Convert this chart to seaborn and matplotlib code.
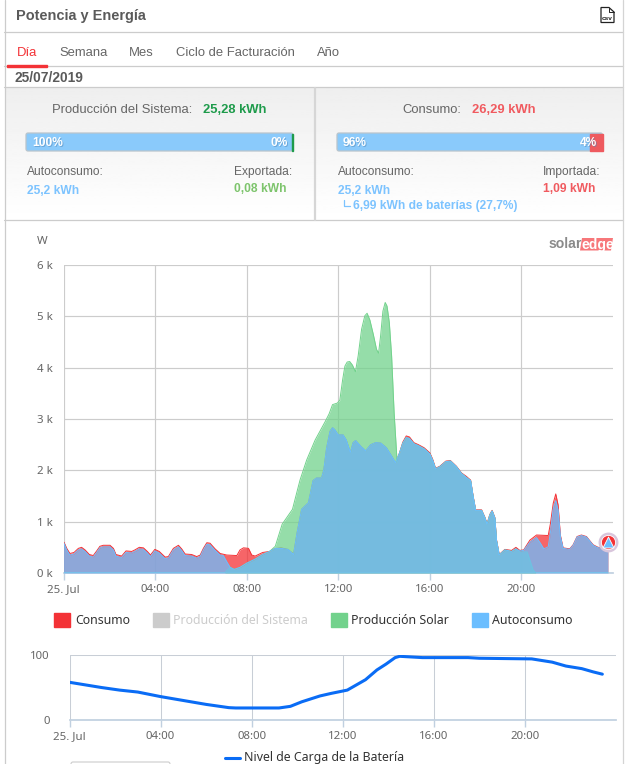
import matplotlib
matplotlib.use("Agg")
import matplotlib.pyplot as plt
from matplotlib.patches import Rectangle, FancyBboxPatch, Polygon
import numpy as np
import seaborn as sns

W, H = 637, 764

# data (hours, kW)
consumo_h = [0, 0.02, 0.14, 0.28, 0.46, 0.65, 0.79, 0.94, 1.13, 1.3, 1.45, 1.59, 1.74, 2.03, 2.18, 2.29, 2.54, 2.73,
             2.98, 3.12, 3.31, 3.49, 3.66, 3.8, 3.99, 4.18, 4.44, 4.58, 4.8, 5.02, 5.16, 5.31, 5.6, 5.82, 5.97, 6.11,
             6.26, 6.4, 6.62, 6.84, 7.13, 7.57, 7.71, 7.86, 8.08, 8.22, 8.37, 8.7, 9.0, 9.2, 9.5, 9.8, 10.05, 10.2,
             10.4, 10.7, 10.9, 11.05, 11.27, 11.37, 11.49, 11.64, 11.75, 11.85, 12.0, 12.21, 12.35, 12.53, 12.65,
             12.76, 13.0, 13.2, 13.42, 13.64, 13.86, 14.1, 14.3, 14.5, 14.67, 14.82, 14.97, 15.11, 15.3, 15.5, 15.75,
             16.0, 16.12, 16.25, 16.44, 16.7, 16.9, 17.16, 17.38, 17.6, 17.78, 17.89, 18.0, 18.26, 18.4, 18.5, 18.62,
             18.72, 18.84, 18.91, 19.03, 19.28, 19.57, 19.76, 19.93, 20.1, 20.37, 20.66, 21.17, 21.27, 21.39, 21.5,
             21.6, 21.7, 21.82, 22.11, 22.26, 22.43, 22.62, 22.84, 23.13, 23.35, 23.78]
consumo_kw = [0.6, 0.6, 0.48, 0.38, 0.4, 0.48, 0.5, 0.45, 0.36, 0.34, 0.43, 0.52, 0.54, 0.54, 0.48, 0.36, 0.33, 0.43,
              0.42, 0.45, 0.5, 0.49, 0.42, 0.35, 0.46, 0.42, 0.31, 0.32, 0.48, 0.54, 0.47, 0.37, 0.36, 0.32, 0.35, 0.48,
              0.59, 0.58, 0.47, 0.38, 0.35, 0.34, 0.45, 0.49, 0.48, 0.35, 0.33, 0.4, 0.42, 0.47, 0.49, 0.46, 0.37, 0.78,
              1.24, 1.37, 1.8, 1.85, 1.85, 2.01, 2.43, 2.76, 2.83, 2.79, 2.69, 2.69, 2.59, 2.35, 2.54, 2.58, 2.46, 2.38,
              2.5, 2.54, 2.53, 2.44, 2.3, 2.15, 2.33, 2.55, 2.67, 2.65, 2.54, 2.5, 2.44, 2.34, 2.22, 2.04, 2.08, 2.18,
              2.19, 2.08, 1.95, 1.88, 1.81, 1.5, 1.23, 1.23, 1.09, 0.96, 1.14, 1.22, 1.08, 0.65, 0.36, 0.46, 0.44, 0.5,
              0.44, 0.45, 0.64, 0.74, 0.73, 0.97, 1.36, 1.54, 1.33, 0.74, 0.49, 0.47, 0.55, 0.71, 0.74, 0.71, 0.55, 0.5,
              0.5]

solar_h = [0, 7.05, 7.13, 7.28, 7.46, 7.71, 8.0, 8.37, 8.7, 9.0, 9.25, 9.55, 10.0, 10.33, 10.62, 10.99, 11.43, 11.6,
           11.75, 11.96, 12.07, 12.19, 12.29, 12.39, 12.5, 12.62, 12.75, 12.87, 13.02, 13.16, 13.26, 13.38, 13.53,
           13.67, 13.76, 13.85, 13.95, 14.05, 14.13, 14.23, 14.33, 14.44, 14.52, 14.57, 14.67, 14.82, 14.97, 15.11,
           15.3, 15.5, 15.75, 16.0, 16.12, 16.25, 16.44, 16.7, 16.9, 17.16, 17.38, 17.6, 17.78, 17.89, 18.0, 18.26,
           18.4, 18.5, 18.62, 18.72, 18.84, 18.91, 19.03, 19.28, 19.57, 19.76, 19.93, 20.25, 20.37, 20.51, 20.63,
           20.7, 23.78]
solar_kw = [0, 0, 0.05, 0.11, 0.07, 0.11, 0.19, 0.27, 0.36, 0.42, 0.52, 0.95, 1.24, 1.81, 2.2, 2.59, 2.95, 3.1, 3.28,
            3.31, 3.37, 3.76, 4.03, 4.11, 4.12, 4.05, 3.92, 4.23, 4.75, 5.01, 5.06, 4.93, 4.65, 4.36, 4.28, 4.62, 5.1,
            5.27, 5.2, 4.88, 4.23, 3.12, 2.54, 2.16, 2.33, 2.53, 2.64, 2.62, 2.52, 2.48, 2.42, 2.32, 2.2, 2.03, 2.07,
            2.17, 2.18, 2.07, 1.94, 1.86, 1.8, 1.49, 1.22, 1.22, 1.08, 0.95, 1.13, 1.21, 1.07, 0.64, 0.35, 0.45, 0.42,
            0.47, 0.41, 0.41, 0.25, 0.06, 0, 0, 0]

autoconsumo_h = [0, 0.02, 0.14, 0.28, 0.46, 0.65, 0.79, 0.94, 1.13, 1.3, 1.45, 1.59, 1.74, 2.03, 2.18, 2.29, 2.54, 2.73,
                 2.98, 3.12, 3.31, 3.49, 3.66, 3.8, 3.99, 4.18, 4.44, 4.58, 4.8, 5.02, 5.16, 5.31, 5.6, 5.82, 5.97,
                 6.11, 6.26, 6.4, 6.62, 6.84, 6.98, 7.13, 7.28, 7.46, 7.71, 8.0, 8.37, 8.7, 9.0, 9.25, 9.5, 9.8, 10.05,
                 10.2, 10.4, 10.7, 10.9, 11.05, 11.27, 11.37, 11.49, 11.64, 11.75, 11.85, 12.0, 12.21, 12.35, 12.53,
                 12.65, 12.76, 13.0, 13.2, 13.42, 13.64, 13.86, 14.1, 14.3, 14.5, 14.67, 14.82, 14.97, 15.11, 15.3,
                 15.5, 15.75, 16.0, 16.12, 16.25, 16.44, 16.7, 16.9, 17.16, 17.38, 17.6, 17.78, 17.89, 18.0, 18.26,
                 18.4, 18.5, 18.62, 18.72, 18.84, 18.91, 19.03, 19.28, 19.57, 19.76, 19.93, 20.1, 20.37, 20.66, 20.83,
                 20.98, 21.17, 21.27, 21.39, 21.5, 21.6, 21.7, 21.82, 22.11, 22.26, 22.43, 22.62, 22.84, 23.13, 23.35,
                 23.78]
autoconsumo_kw = [0.58, 0.58, 0.45, 0.35, 0.37, 0.45, 0.47, 0.42, 0.33, 0.31, 0.4, 0.49, 0.51, 0.51, 0.45, 0.33, 0.3,
                  0.4, 0.39, 0.42, 0.47, 0.46, 0.39, 0.32, 0.43, 0.39, 0.28, 0.29, 0.45, 0.51, 0.44, 0.34, 0.33, 0.29,
                  0.32, 0.45, 0.56, 0.55, 0.44, 0.35, 0.34, 0.22, 0.11, 0.07, 0.11, 0.19, 0.27, 0.36, 0.42, 0.48, 0.48,
                  0.46, 0.36, 0.78, 1.24, 1.37, 1.8, 1.85, 1.85, 2.01, 2.43, 2.76, 2.83, 2.79, 2.69, 2.69, 2.59, 2.35,
                  2.54, 2.58, 2.46, 2.38, 2.5, 2.54, 2.53, 2.44, 2.3, 2.15, 2.33, 2.53, 2.64, 2.62, 2.52, 2.48, 2.42,
                  2.32, 2.2, 2.03, 2.07, 2.17, 2.18, 2.07, 1.94, 1.86, 1.8, 1.49, 1.22, 1.22, 1.08, 0.95, 1.13, 1.21,
                  1.07, 0.64, 0.35, 0.45, 0.42, 0.47, 0.43, 0.44, 0.6, 0.69, 0.58, 0.47, 0.51, 0.8, 1.26, 1.41, 1.23,
                  0.71, 0.48, 0.46, 0.54, 0.7, 0.73, 0.7, 0.54, 0.49, 0.49]

bateria_h = [0, 1.4, 2.2, 3, 4, 5, 6, 7, 7.3, 9.2, 9.7, 10.2, 11, 11.5, 12.2, 13, 13.5, 13.9, 14.3, 14.5, 15.5, 17.5,
             18, 20.3, 21.2, 21.8, 22.5, 23, 23.4]
bateria_pct = [58, 50, 46, 43, 36, 30, 24, 19, 18.5, 18.5, 21, 28, 37, 41, 46, 62, 77, 86, 96, 98, 96, 96, 95, 94, 89,
               83, 79, 74, 70.5]

hour_ticks = [0, 4, 8, 12, 16, 20]
hour_labels = ["25. Jul", "04:00", "08:00", "12:00", "16:00", "20:00"]
power_ticks = [0, 1, 2, 3, 4, 5, 6]
power_labels = ["0 k", "1 k", "2 k", "3 k", "4 k", "5 k", "6 k"]
legend_names = ["Consumo", "Producción del Sistema", "Producción Solar", "Autoconsumo"]
marker_h = [23.78]
marker_kw = [0.61]

RED = "#F33236"
GREY = "#CCCCCC"
GREEN = "#72D28C"
BLUE = "#6BBEFF"
UI_FONT = "Liberation Sans"
CHART_FONT = "Noto Sans"

sns.set_theme(style="white")
plt.rcParams["font.family"] = [UI_FONT, "DejaVu Sans"]


def px(size):
    # font size in pixels to points at dpi 100
    return size * 0.72


def axes_rect(left, top, right, bottom):
    return [left / W, 1 - bottom / H, (right - left) / W, (bottom - top) / H]


fig = plt.figure(figsize=(W / 100, H / 100), dpi=100, facecolor="white")

# page chrome in pixel coordinates
ui = fig.add_axes([0, 0, 1, 1], zorder=0)
ui.imshow(np.linspace(0.935, 1, 64).reshape(-1, 1), extent=(5, 623, 220, 88), aspect="auto",
          cmap="gray", vmin=0, vmax=1, zorder=0)
ui.set_xlim(0, W)
ui.set_ylim(H, 0)
ui.axis("off")

for y in [31.7, 66, 87.3, 220.3]:
    ui.plot([4, 623], [y, y], color="#CCCCCC", lw=0.9, zorder=1)
ui.plot([4.5, 4.5], [0, H], color="#CCCCCC", lw=0.9, zorder=1)
ui.plot([623, 623], [0, H], color="#D4D4D4", lw=0.9, zorder=1)
ui.plot([315, 315], [88, 220], color="#D6D6D6", lw=1.6, zorder=1)


def label(x, y, text, size=12, color="#666666", weight="normal", ha="left", font=UI_FONT):
    return ui.text(x, y, text, fontsize=px(size), color=color, fontweight=weight, ha=ha, va="center",
                   family=font, zorder=3)


def bar_label(x, text, ha="left"):
    # white figure with the soft shadow the page gives it
    sh = label(x + 1, 144, text, 12, "#4E86B8", "bold", ha=ha)
    sh.set_alpha(0.5)
    label(x, 143, text, 12, "white", "bold", ha=ha)


label(15.5, 16, "Potencia y Energía", 14.5, "#5A5A5A", "bold")
label(17, 52.5, "Día", 13, "#F33236")
for x, tab in [(59, "Semana"), (129, "Mes"), (176, "Ciclo de Facturación"), (316.5, "Año")]:
    label(x, 52.5, tab, 13, "#666666")
ui.add_patch(Rectangle((7, 64.5), 40, 2.2, color="#F33236", zorder=3))
label(14.5, 77.5, "25/07/2019", 13.8, "#5A5A5A", "bold")

label(52, 110, "Producción del Sistema:", 13, "#666666")
label(203, 110, "25,28 kWh", 13, "#1E9B4B", "bold")
label(402, 110, "Consumo:", 13, "#666666")
label(472, 110, "26,29 kWh", 13, "#F05A5F", "bold")

for left, right in [(26, 293), (337, 602.5)]:
    ui.add_patch(FancyBboxPatch((left, 133), right - left, 18, boxstyle="round,pad=0,rounding_size=2",
                                fc="#8ACAFB", ec="#B9C4CC", lw=0.9, zorder=2))
ui.add_patch(Rectangle((292, 133.5), 1.2, 17, color="#1E9B4B", zorder=2.5))
ui.add_patch(Rectangle((590, 133.5), 12.5, 17, color="#EE5A5F", zorder=2.5))
bar_label(32, "100%")
bar_label(288, "0%", ha="right")
bar_label(343, "96%")
bar_label(597, "4%", ha="right")

label(27, 172, "Autoconsumo:", 12, "#666666")
label(27, 190.5, "25,2 kWh", 12, "#7CC3FF", "bold")
label(234, 172, "Exportada:", 12, "#666666")
label(234, 189.5, "0,08 kWh", 12, "#7DC46C", "bold")
label(338, 172, "Autoconsumo:", 12, "#666666")
label(338, 190.5, "25,2 kWh", 12, "#7CC3FF", "bold")
label(353, 206.5, "6,99 kWh de baterías (27,7%)", 12, "#7CC3FF", "bold")
ui.plot([343.5, 343.5, 349.5], [200, 205.5, 205.5], color="#7CC3FF", lw=0.9, zorder=3)
label(543, 172, "Importada:", 12, "#666666")
label(543, 189.5, "1,09 kWh", 12, "#F05A5F", "bold")

# csv icon
ui.add_patch(Polygon([(601, 7.5), (609, 7.5), (614, 12), (614, 22.5), (601, 22.5)], closed=True, fc="white",
                     ec="#222222", lw=0.9, zorder=3))
ui.plot([609, 609, 614], [7.5, 12, 12], color="#222222", lw=0.7, zorder=3)
label(607.5, 18, "csv", 6.5, "#222222", "bold", ha="center")

# solaredge logo
label(549, 244, "solar", 14, "#8A8A8A", "bold")
ui.add_patch(Polygon([(582, 238), (613, 238), (611, 250.5), (580, 250.5)], closed=True, fc="#F7777A", ec="none",
                     zorder=2.5))
label(582, 244.5, "edge", 14, "white", "bold")
label(37, 242, "W", 11.5, "#666666", font=CHART_FONT)

# main power chart
ax = fig.add_axes(axes_rect(63.5, 265, 613, 573), zorder=1)
ax.patch.set_alpha(0)
series = [(consumo_h, consumo_kw, RED), (solar_h, solar_kw, GREEN), (autoconsumo_h, autoconsumo_kw, BLUE)]
for z, (hours, values, color) in enumerate(series, start=2):
    ax.fill_between(hours, values, 0, color=color, alpha=0.75, lw=0, zorder=z)
    sns.lineplot(x=hours, y=values, ax=ax, color=color, lw=0.7, sort=False, estimator=None, zorder=z, legend=False)

ax.set_xlim(0, 24)
ax.set_ylim(0, 6)
ax.set_xticks(hour_ticks, hour_labels)
ax.set_yticks(power_ticks, power_labels)
ax.set_xlabel("")
ax.set_ylabel("")
ax.grid(True, color="#CCCCCC", lw=0.85)
ax.set_axisbelow(True)
sns.despine(ax=ax, left=True, right=True, top=True, bottom=False)
ax.spines["bottom"].set_color("#C0D0E0")
ax.tick_params(axis="x", length=5, width=1, color="#C0D0E0", labelsize=px(11.5), labelcolor="#666666", pad=3, bottom=True)
ax.tick_params(axis="y", length=0, labelsize=px(11.5), labelcolor="#666666", pad=8)
for t in ax.get_xticklabels() + ax.get_yticklabels():
    t.set_family(CHART_FONT)

# last-point marker
ax.scatter(marker_h, marker_kw, s=205, color="#D9C6DC", lw=0, zorder=6, clip_on=False)
ax.scatter(marker_h, marker_kw, s=105, color=RED, edgecolors="white", lw=0.6, zorder=7, clip_on=False)
ax.scatter(marker_h, marker_kw, s=62, marker="^", color=BLUE, edgecolors="white", lw=0.6, zorder=8, clip_on=False)

# legend of the main chart
for (sx, tx), name, color in zip([(54, 75), (153, 173), (331, 351), (472, 492)], legend_names,
                                 [RED, GREY, GREEN, BLUE]):
    ui.add_patch(Rectangle((sx, 613), 16, 14, color=color, zorder=2))
    label(tx, 620, name, 12.3, "#CCCCCC" if color == GREY else "#333333", font=CHART_FONT)

# battery chart
bx = fig.add_axes(axes_rect(69.5, 655, 616, 720), zorder=1)
bx.patch.set_alpha(0)
sns.lineplot(x=bateria_h, y=bateria_pct, ax=bx, color="#0A6CF5", lw=2.2, sort=False, estimator=None, zorder=3, legend=False)
bx.set_xlim(0, 24)
bx.set_ylim(0, 100)
bx.set_xticks(hour_ticks, hour_labels)
bx.set_yticks([0, 100], ["0", "100"])
bx.set_xlabel("")
bx.set_ylabel("")
bx.grid(True, color="#C8CED6", lw=0.75)
bx.set_axisbelow(True)
sns.despine(ax=bx, left=True, right=True, top=True, bottom=False)
bx.spines["bottom"].set_color("#C0D0E0")
bx.tick_params(axis="x", length=5, width=1, color="#C0D0E0", labelsize=px(11.5), labelcolor="#666666", pad=3, bottom=True)
bx.tick_params(axis="y", length=0, labelsize=px(11.5), labelcolor="#666666", pad=14)
for t in bx.get_xticklabels() + bx.get_yticklabels():
    t.set_family(CHART_FONT)

ui.plot([225, 240], [757.5, 757.5], color="#0A6CF5", lw=2.2, zorder=2)
label(244, 757, "Nivel de Carga de la Batería", 12.3, "#333333", font=CHART_FONT)
ui.add_patch(FancyBboxPatch((71, 762), 99, 6, boxstyle="round,pad=0,rounding_size=2", fc="white", ec="#CCCCCC", lw=0.8,
                            zorder=2))

fig.savefig("out.png", dpi=100)
